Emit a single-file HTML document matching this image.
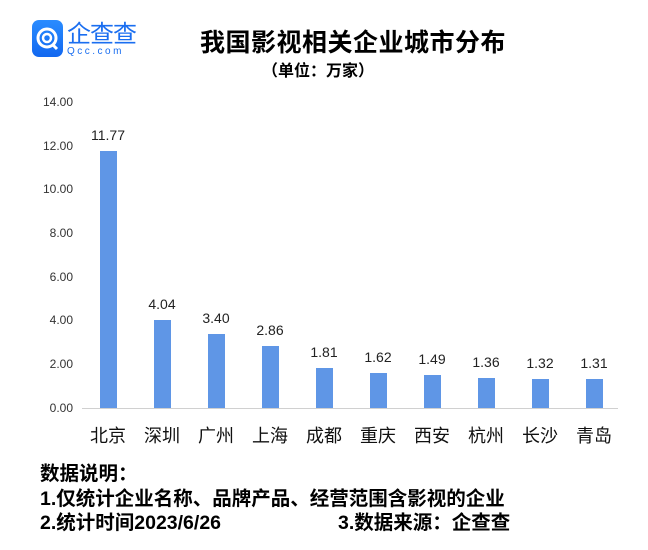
<!DOCTYPE html>
<html><head><meta charset="utf-8"><style>
body{margin:0;width:648px;height:550px;background:#fff;overflow:hidden;font-family:"Liberation Sans","Noto Sans CJK SC",sans-serif;}
.a{position:absolute;white-space:nowrap;line-height:1}
</style></head><body>
<div class="a" style="left:32px;top:20px;width:31px;height:37px;border-radius:7px;background:linear-gradient(#2a8cff,#1268f0)"></div>
<svg class="a" style="left:32px;top:20px" width="31" height="37"><circle cx="15" cy="18" r="9" fill="none" stroke="#fff" stroke-width="3"/><circle cx="15" cy="18" r="4" fill="none" stroke="#fff" stroke-width="2.5"/><path d="M20 24 L25 29" stroke="#fff" stroke-width="3"/></svg>
<div class="a" style="left:67px;top:20px;font-size:24px;color:#1a6ef0;letter-spacing:-1px;font-family:'Noto Sans CJK SC',sans-serif">企查查</div>
<div class="a" style="left:67px;top:47px;font-size:10px;color:#1a6ef0;letter-spacing:2.5px">Qcc.com</div>
<div class="a" style="left:200px;top:31px;font-size:25px;font-weight:bold;letter-spacing:0.5px">我国影视相关企业城市分布</div>
<div class="a" style="left:262px;top:64px;font-size:16px;font-weight:bold">（单位：万家）</div>
<svg class="a" style="left:0;top:0" width="648" height="550" font-family="Liberation Sans, sans-serif">
<g font-size="12" fill="#333" text-anchor="end">
<text x="73" y="106">14.00</text><text x="73" y="150">12.00</text><text x="73" y="193">10.00</text><text x="73" y="237">8.00</text><text x="73" y="281">6.00</text><text x="73" y="324">4.00</text><text x="73" y="368">2.00</text><text x="73" y="412">0.00</text></g>
<line x1="82" y1="408.5" x2="618" y2="408.5" stroke="#d0d0d0"/>
<g fill="#5f96e6">
<rect x="100" y="151" width="17" height="257"/><rect x="154" y="320" width="17" height="88"/><rect x="208" y="334" width="17" height="74"/><rect x="262" y="346" width="17" height="62"/><rect x="316" y="368" width="17" height="40"/><rect x="370" y="373" width="17" height="35"/><rect x="424" y="375" width="17" height="33"/><rect x="478" y="378" width="17" height="30"/><rect x="532" y="379" width="17" height="29"/><rect x="586" y="379" width="17" height="29"/></g>
<g font-size="14" fill="#222" text-anchor="middle">
<text x="108" y="140">11.77</text><text x="162" y="309">4.04</text><text x="216" y="323">3.40</text><text x="270" y="335">2.86</text><text x="324" y="357">1.81</text><text x="378" y="362">1.62</text><text x="432" y="364">1.49</text><text x="486" y="367">1.36</text><text x="540" y="368">1.32</text><text x="594" y="368">1.31</text></g>
<g font-size="18" fill="#111" text-anchor="middle" font-family="Noto Sans CJK SC, sans-serif">
<text x="108" y="442">北京</text><text x="162" y="442">深圳</text><text x="216" y="442">广州</text><text x="270" y="442">上海</text><text x="324" y="442">成都</text><text x="378" y="442">重庆</text><text x="432" y="442">西安</text><text x="486" y="442">杭州</text><text x="540" y="442">长沙</text><text x="594" y="442">青岛</text></g>
</svg>
<div class="a" style="left:40px;top:462px;font-size:19.5px;font-weight:bold;line-height:24.5px">数据说明：<br>1.仅统计企业名称、品牌产品、经营范围含影视的企业<br>2.统计时间2023/6/26<span style="position:absolute;left:298px">3.数据来源：企查查</span></div>
</body></html>
